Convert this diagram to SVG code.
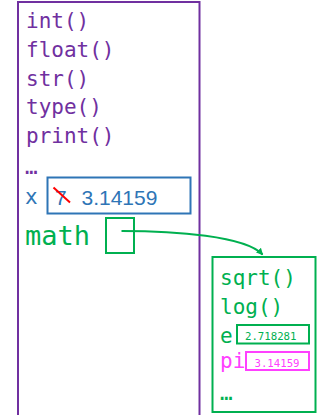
<svg xmlns="http://www.w3.org/2000/svg" width="328" height="415" viewBox="0 0 328 415">
  <style>
    .mono { font-family: "DejaVu Sans Mono", "Liberation Mono", monospace; }
    .sans { font-family: "Liberation Sans", Arial, sans-serif; }
    .purple { fill: #7030A0; }
    .green { fill: #00B050; }
    .blue { fill: #2E75B6; }
    .magenta { fill: #FF40FF; }
  </style>
  <defs>
    <marker id="arrow" markerWidth="8" markerHeight="8" refX="6" refY="4" orient="auto" markerUnits="userSpaceOnUse">
      <path d="M0,0.5 L7,4 L0,7.5 z" fill="#00B050"/>
    </marker>
  </defs>
  <rect width="328" height="415" fill="#ffffff"/>

  <!-- global namespace frame -->
  <g id="globals">
    <rect x="18" y="2" width="181.5" height="430" fill="none" stroke="#7030A0" stroke-width="2"/>
    <g class="mono purple" font-size="21">
      <text x="26" y="28">int()</text>
      <text x="26" y="57">float()</text>
      <text x="26" y="85.5">str()</text>
      <text x="26" y="114">type()</text>
      <text x="26" y="143">print()</text>
      <text x="25" y="174">…</text>
    </g>
  </g>

  <!-- variable x -->
  <g id="var-x">
    <text class="mono blue" x="25" y="203.5" font-size="21">x</text>
    <rect x="47.5" y="177.5" width="143" height="36" fill="none" stroke="#2E75B6" stroke-width="2"/>
    <text class="sans blue" x="55" y="204.5" font-size="21">7</text>
    <line x1="53.5" y1="187.5" x2="70" y2="202.5" stroke="#FF0000" stroke-width="2"/>
    <text class="sans blue" x="81.5" y="204.5" font-size="21">3.14159</text>
  </g>

  <!-- variable math -->
  <g id="var-math">
    <text class="mono green" x="25" y="245" font-size="27">math</text>
    <rect x="106" y="218" width="28" height="35" fill="none" stroke="#00B050" stroke-width="2"/>
  </g>

  <!-- math module object -->
  <g id="math-module">
    <rect x="212.5" y="257" width="103" height="155" fill="none" stroke="#00B050" stroke-width="2"/>
    <g class="mono green" font-size="21">
      <text x="220" y="285">sqrt()</text>
      <text x="220" y="313.5">log()</text>
      <text x="220" y="342.5">e</text>
      <text x="220" y="400">…</text>
    </g>
    <rect x="237" y="325" width="72" height="18.5" fill="none" stroke="#00B050" stroke-width="2"/>
    <text class="mono green" x="245" y="340" font-size="10.7">2.718281</text>
    <text class="mono magenta" x="220" y="368" font-size="21">pi</text>
    <rect x="246" y="352" width="63" height="18" fill="none" stroke="#FF40FF" stroke-width="2"/>
    <text class="mono magenta" x="254.5" y="367" font-size="10.7">3.14159</text>
  </g>

  <!-- reference from math to module -->
  <g id="connectors">
    <path d="M121.5,231 C175,231 245,236 262.5,254.5" fill="none" stroke="#00B050" stroke-width="2" marker-end="url(#arrow)"/>
  </g>
</svg>
